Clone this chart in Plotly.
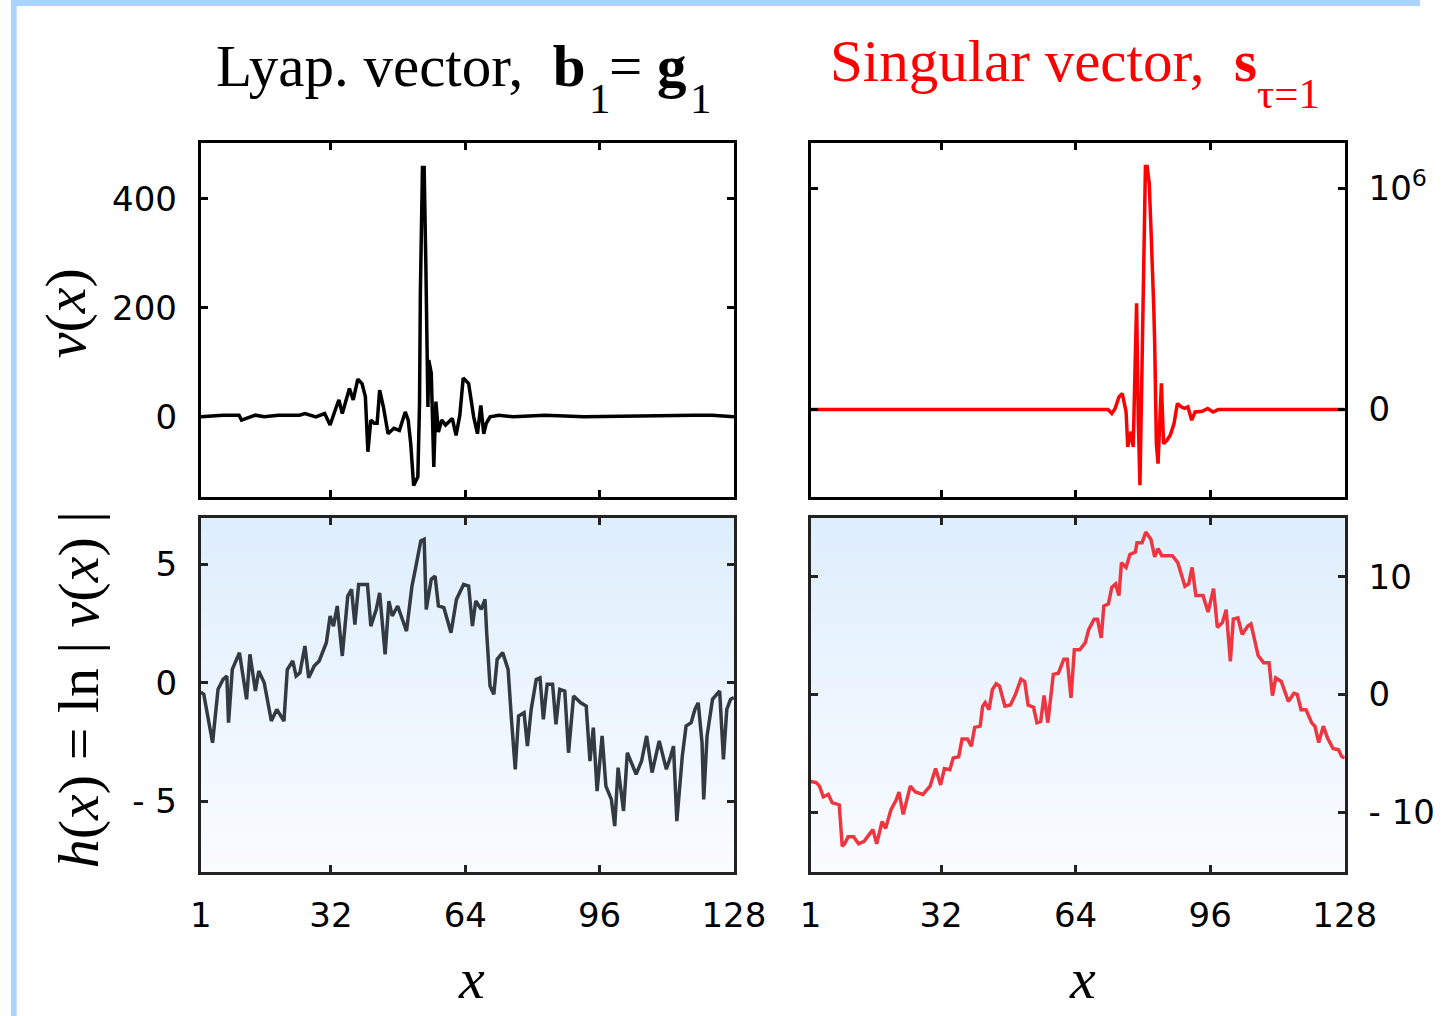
import plotly.graph_objects as go

# ---------------- data ----------------
# top-left: Lyapunov vector v(x)
lyap_x = [1, 6.3, 10.1, 10.7, 14, 16.1, 19.5, 24.5, 25.8, 28.4, 30.5, 31.8, 33, 33.9, 34.7, 35.6,
          36.4, 37.3, 38.4, 39.4, 40.2, 40.8, 41.5, 42.3, 43, 43.6, 44.5, 45.6, 47, 48.3, 49.7,
          50.4, 51, 51.7, 52.7, 53.1, 53.3, 53.8, 54.2, 54.6, 55.1, 55.3, 55.9, 56.5, 57, 57.6,
          58.4, 59.3, 60.1, 60.9, 61.8, 62.7, 63.5, 64.8, 66, 66.9, 67.7, 68.4, 69, 69.9, 72,
          75.4, 83, 92.3, 118.6, 122.8, 128]
lyap_v = [0, 3, 3, -6, 3, 0, 3, 3, 6, 0, 6, -15, 12, 31, 6, 31,
          52, 31, 69, 61, 37, -64, -6, -12, -12, 49, 18, -31, -21, -25, 9,
          -6, -49, -126, -110, 25, 227, 457, 457, 282, 18, 104, 80, -92, 28, -28,
          -6, -15, -9, -3, -34, 3, 71, 61, 0, -31, 21, -31, -12, 0, 3,
          0, 3, 0, 3, 3, 0]

# top-right: singular vector s (units of 10^6)
sing_x = [1, 71.7, 72.6, 73.4, 74.3, 75.1, 76, 76.4, 77.2, 77.7, 78.1, 78.5, 78.9, 79.3, 79.8,
          80.2, 80.6, 81, 81.5, 81.9, 82.3, 82.6, 82.8, 83.2, 83.6, 84, 84.4, 84.9, 85.7,
          86.5, 87.4, 88.2, 89.1, 89.9, 90.7, 91.6, 92.4, 94.1, 95.4, 96.7, 97.9, 128]
sing_v = [0, 0, -0.018, 0.005, 0.057, 0.072, -0.011, -0.169, -0.10, -0.169, 0.163, 0.48, -0.048,
          -0.342, 0.208, 0.676, 1.098, 1.098, 1.023, 0.827, 0.638, 0.45, 0.3, -0.154, -0.244,
          -0.048, 0.118, -0.154, -0.139, -0.116, -0.063, 0.027, 0.012, 0.005, 0.012, -0.048,
          -0.011, -0.008, 0.005, -0.011, 0, 0]

# bottom-left: h(x) = ln|v(x)| for the Lyapunov vector
lyap_hx = [1, 1.7, 3.8, 5.1, 6.3, 7.2, 7.6, 8.5, 10.2, 11.9, 12.7, 14, 14.8, 16.1, 17.8, 19.1,
           20.8, 21.6, 22.9, 23.7, 24.6, 25.8, 26.7, 28, 29.2, 30.9, 31.8, 32.6, 33.5, 34.7,
           36, 36.9, 37.7, 38.6, 40.7, 41.5, 42.8, 43.6, 44.9, 45.8, 46.6, 47.9, 50, 51.3,
           52.1, 53.4, 54.2, 54.7, 55.9, 56.8, 57.6, 58.9, 60.6, 61.9, 63.6, 64.8, 65.7, 66.5,
           67.8, 68.7, 69.1, 69.9, 70.8, 71.6, 72.9, 74.2, 75, 75.9, 76.7, 78, 78.8, 79.7,
           80.9, 81.8, 82.6, 83.5, 84.8, 85.6, 86.5, 87.7, 88.6, 89.8, 91.5, 92.8, 93.7, 94.5,
           95.4, 96.6, 97.5, 98.8, 99.6, 100.4, 101.7, 102.6, 104.7, 106, 107.2, 108.5, 110.2,
           111.9, 112.7, 113.6, 114.4, 115.7, 116.6, 117.8, 118.7, 119.5, 120.4, 120.8, 121.6,
           122.9, 124.6, 125.5, 126.3, 127.2, 128]
lyap_h = [-0.4, -0.49, -2.54, -0.28, 0.14, 0.28, -1.69, 0.56, 1.27, -0.70, 1.2, -0.35, 0.49, 0,
          -1.62, -1.13, -1.62, 0.56, 0.92, 0.28, 0.42, 1.55, 0.21, 0.70, 0.92, 1.69, 2.82, 2.39,
          3.24, 1.13, 3.66, 3.94, 2.46, 4.15, 4.15, 2.39, 3.1, 3.8, 1.2, 3.45, 2.82, 3.24, 2.18,
          4.08, 4.79, 5.99, 6.06, 3.1, 4.37, 4.5, 3.24, 3.17, 2.11, 3.52, 4.15, 4.08, 2.39, 3.45,
          3.1, 3.52, 2.11, -0.14, -0.49, 0.99, 1.27, 0.56, -1.55, -3.66, -1.41, -1.27, -2.68,
          -1.13, 0.14, 0.21, -1.55, -0.07, -0.07, -1.76, -0.28, -0.35, -2.96, -0.56, -0.85,
          -0.99, -3.31, -1.9, -4.58, -2.25, -4.37, -4.93, -6.06, -3.59, -5.42, -2.96, -3.87,
          -3.31, -2.25, -3.8, -2.46, -3.66, -3.24, -2.68, -5.85, -3.1, -1.83, -1.69, -1.13,
          -0.85, -2.54, -4.93, -2.25, -0.70, -0.35, -3.24, -1.13, -0.70, -0.63]

# bottom-right: h(x) for the singular vector
sing_hx = [1, 2.3, 3.1, 4, 5.2, 6.1, 7.8, 8.5, 9.1, 9.9, 11.2, 12.4, 13.7, 15, 15.8, 16.7, 18,
           18.8, 20.1, 21.3, 22, 23, 24.7, 25.9, 27.7, 29.4, 30.7, 31.9, 32.8, 34.1, 34.9, 36.2,
           37, 38.3, 39.2, 40, 41.3, 41.9, 42.5, 43.4, 44.2, 45.1, 45.9, 47.2, 48.5, 49.7, 51,
           51.9, 52.7, 54, 54.8, 55.7, 56.5, 57.4, 58.2, 58.7, 59.9, 61.2, 62, 62.9, 63.7, 65,
           66.3, 67.1, 68.4, 69.2, 70.1, 70.7, 71.8, 72.6, 73.5, 74.3, 74.9, 76, 76.9, 78.2,
           78.6, 79.8, 80.7, 81.9, 82.8, 83.6, 84.5, 87, 88.3, 90, 90.9, 91.7, 92.6, 94.3, 95.5,
           96.8, 97.7, 98.9, 99.8, 100.8, 101.5, 102.6, 103.6, 104.9, 105.7, 107.4, 108.7, 110,
           110.8, 111.6, 112.9, 114.6, 115.9, 116.7, 117.6, 118.8, 120.1, 120.9, 121.8, 122.9,
           123.9, 125.2, 126.5, 127.3, 128]
sing_h = [-7.4, -7.5, -7.8, -8.7, -8.5, -9.2, -9.4, -12.9, -12.7, -12.1, -12.1, -12.7, -12.5,
          -11.9, -11.5, -12.7, -10.8, -11.4, -9.8, -9.0, -8.3, -10.2, -7.8, -8.3, -8.5, -7.8,
          -6.3, -7.7, -6.3, -6.4, -5.4, -5.3, -3.8, -3.8, -4.4, -2.8, -2.7, -1.0, -0.7, -1.3,
          0.4, 0.9, 0.7, -1.0, -0.9, 0, 1.3, 1.1, -0.9, -1.1, -2.4, -2.3, -0.1, -2.4, -0.1, 1.7,
          1.8, 3.0, 3.0, -0.3, 3.8, 3.8, 4.4, 5.5, 6.4, 6.4, 4.8, 7.5, 7.7, 9.1, 9.4, 8.4, 11.2,
          10.8, 11.9, 12.1, 12.9, 12.9, 13.8, 13.2, 11.7, 12.4, 11.8, 11.8, 11.2, 9.2, 9.4,
          10.8, 8.4, 8.4, 7.0, 9.0, 5.7, 6.1, 7.2, 2.8, 6.4, 6.5, 5.1, 5.8, 6.0, 3.3, 2.7, 2.7,
          -0.1, 1.4, 1.1, -0.6, 0.1, 0, -1.3, -1.3, -2.4, -2.7, -4.1, -2.7, -3.7, -4.6, -4.7,
          -5.3, -5.4]

x_ticks = [1, 32, 64, 96, 128]
v_ticks_left = [0, 200, 400]
v_ticks_right = [0, 1]
v_ticktext_right = ["0", "10<sup>6</sup>"]
h_ticks_left = [-5, 0, 5]
h_ticktext_left = ["- 5", "0", "5"]
h_ticks_right = [-10, 0, 10]
h_ticktext_right = ["- 10", "0", "10"]

# ---------------- figure ----------------
W, H = 1452, 1016
# the page is shown a little narrower than the window, offset to the right:
# map a wanted window pixel to a paper fraction accordingly
X_OFF, X_W = 7.5, 1414.0
def px(xp):
    return (xp - X_OFF) / X_W
def py(yp):
    return 1 - yp / H

fig = go.Figure()
fig.add_trace(go.Scatter(x=lyap_x, y=lyap_v, xaxis="x", yaxis="y", mode="lines",
                         line=dict(color="#000000", width=3.5)))
fig.add_trace(go.Scatter(x=sing_x, y=sing_v, xaxis="x2", yaxis="y2", mode="lines",
                         line=dict(color="#ff0000", width=3.5)))
fig.add_trace(go.Scatter(x=lyap_hx, y=lyap_h, xaxis="x3", yaxis="y3", mode="lines",
                         line=dict(color="#333a42", width=3.5)))
fig.add_trace(go.Scatter(x=sing_hx, y=sing_h, xaxis="x4", yaxis="y4", mode="lines",
                         line=dict(color="#ee3540", width=3.5)))

tickfont = dict(family="DejaVu Sans", size=34, color="#000000")
def xax(dom, anchor, labels, color):
    return dict(domain=dom, anchor=anchor, range=[1, 128], tickvals=x_ticks,
                showticklabels=labels, ticks="inside", ticklen=7, tickwidth=3, tickcolor=color,
                showline=True, linewidth=3, linecolor=color, mirror="allticks",
                showgrid=False, zeroline=False, tickfont=tickfont, ticklabelstandoff=11)
def yax(dom, anchor, rng, tv, tt, side, color):
    return dict(domain=dom, anchor=anchor, range=rng, tickvals=tv, ticktext=tt, side=side,
                ticks="inside", ticklen=7, tickwidth=3, tickcolor=color,
                showline=True, linewidth=3, linecolor=color, mirror="allticks",
                showgrid=False, zeroline=False, tickfont=tickfont, ticklabelstandoff=14)

xl = [px(198), px(733)]
xr = [px(810), px(1346)]
yt = [py(497), py(143)]
yb = [py(872), py(518)]

fig.update_layout(
    width=W, height=H, margin=dict(l=0, r=0, t=0, b=0), autosize=False,
    paper_bgcolor="#ffffff", plot_bgcolor="#ffffff", showlegend=False,
    xaxis=xax(xl, "y", False, "#000000"),
    xaxis2=xax(xr, "y2", False, "#000000"),
    xaxis3=xax(xl, "y3", True, "#222222"),
    xaxis4=xax(xr, "y4", True, "#222222"),
    yaxis=yax(yt, "x", [-147, 502], v_ticks_left, [str(v) for v in v_ticks_left], "left", "#000000"),
    yaxis2=yax(yt, "x2", [-0.395, 1.204], v_ticks_right, v_ticktext_right, "right", "#000000"),
    yaxis3=yax(yb, "x3", [-8.0, 6.96], h_ticks_left, h_ticktext_left, "left", "#222222"),
    yaxis4=yax(yb, "x4", [-15.1, 15.0], h_ticks_right, h_ticktext_right, "right", "#222222"),
)

shapes = []
# light-blue page border (top and left)
shapes.append(dict(type="rect", xref="paper", yref="paper", x0=0, x1=max(px(11), 0.004), y0=0, y1=1,
                   fillcolor="#aad3fd", line=dict(width=0), layer="below"))
shapes.append(dict(type="rect", xref="paper", yref="paper", x0=0, x1=1, y0=py(6), y1=1,
                   fillcolor="#aad3fd", line=dict(width=0), layer="below"))
# vertical gradient in the lower panels
N = 60
top_c = (222, 238, 253)
bot_c = (250, 252, 255)
for ax in ["x3", "x4"]:
    yname = "y3" if ax == "x3" else "y4"
    for i in range(N):
        t = (i + 0.5) / N
        c = tuple(round(top_c[k] + (bot_c[k] - top_c[k]) * t) for k in range(3))
        shapes.append(dict(type="rect", xref=f"{ax} domain", yref=f"{yname} domain",
                           x0=0, x1=1, y0=1 - (i + 1) / N - 0.002, y1=1 - i / N,
                           fillcolor="rgb(%d,%d,%d)" % c, line=dict(width=0), layer="below"))
fig.update_layout(shapes=shapes)

serif = "Liberation Serif"
def note(text, x, y, size, color="#000000", xanchor="left", angle=0):
    return dict(text=text, x=px(x), y=py(y), xref="paper", yref="paper", xanchor=xanchor,
                yanchor="middle", textangle=angle, showarrow=False,
                font=dict(family=serif, size=size, color=color))

ann = [
    note("Lyap. vector,&nbsp; <b>b</b>", 211, 66, 59),
    note("1", 586, 98, 43),
    note("= <b>g</b>", 606, 66, 59),
    note("1", 687, 98, 43),
    note("Singular vector,&nbsp; <b>s</b>", 827, 61, 59, "#ff0000"),
    note("τ=1", 1256, 93, 43, "#ff0000"),
    note("<i>v</i>(<i>x</i>)", 62, 313, 58, xanchor="center", angle=-90),
    note("<i>h</i>(<i>x</i>) = ln | <i>v</i>(<i>x</i>) |", 75, 690, 58, xanchor="center", angle=-90),
    note("<i>x</i>", 470, 978, 58, xanchor="center"),
    note("<i>x</i>", 1083, 978, 58, xanchor="center"),
]
fig.update_layout(annotations=ann)

fig.write_html("out.html")
